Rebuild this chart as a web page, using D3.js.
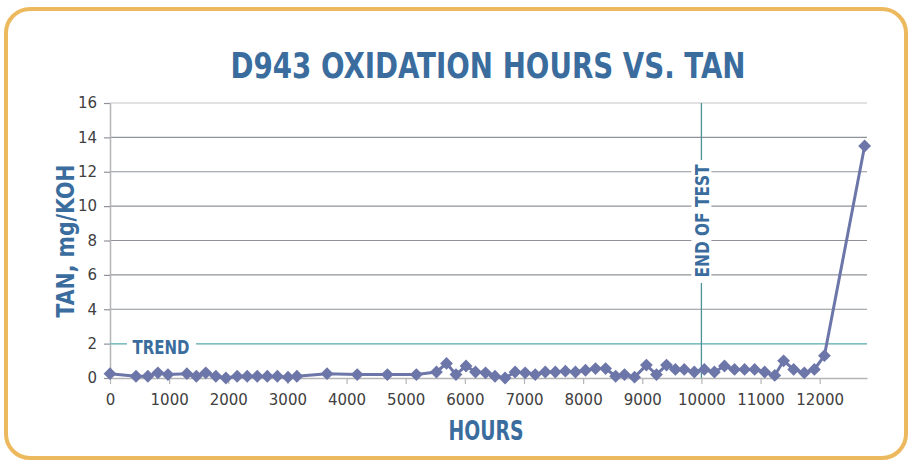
<!DOCTYPE html>
<html><head><meta charset="utf-8">
<script src="https://cdn.jsdelivr.net/npm/d3@7"></script>
<style>html,body{margin:0;padding:0;background:#fff;}svg{display:block;}</style>
</head><body>
<svg id="chart" width="909" height="462"></svg>
<script>
const titleText = "D943 OXIDATION HOURS VS. TAN";
const xLabel = "HOURS";
const yLabel = "TAN, mg/KOH";
const hours = [0,440,640,810,980,1300,1460,1620,1790,1960,2150,2320,2490,2660,2830,3010,3160,3670,4180,4690,5180,5520,5690,5850,6020,6180,6350,6510,6680,6850,7020,7190,7360,7530,7700,7870,8040,8210,8380,8550,8700,8870,9070,9240,9410,9560,9710,9880,10050,10220,10390,10560,10730,10900,11070,11240,11390,11560,11740,11910,12080,12760];
const tan = [0.25,0.1,0.1,0.3,0.2,0.25,0.1,0.3,0.1,0.0,0.1,0.1,0.1,0.1,0.1,0.05,0.1,0.25,0.2,0.2,0.2,0.35,0.85,0.2,0.7,0.35,0.3,0.1,0.0,0.35,0.3,0.2,0.35,0.35,0.4,0.35,0.45,0.55,0.55,0.1,0.2,0.05,0.75,0.2,0.75,0.5,0.5,0.35,0.5,0.35,0.7,0.5,0.5,0.5,0.35,0.15,1.0,0.5,0.3,0.5,1.3,13.5];
const xTicks = [0,1000,2000,3000,4000,5000,6000,7000,8000,9000,10000,11000,12000];
const yTicks = [0,2,4,6,8,10,12,14,16];
const trendValue = 2;
const trendLabel = "TREND";
const endTestHour = 10000;
const endTestLabel = "END OF TEST";

const svg = d3.select("#chart");
const blue = "#3A6D9E";
const condensed = "'DejaVu Sans Condensed','Liberation Sans Narrow','Open Sans',sans-serif";

// frame
svg.append("rect").attr("x",6).attr("y",9).attr("width",900).attr("height",449)
  .attr("rx",24).attr("ry",24).attr("fill","#fff").attr("stroke","#EDB95E").attr("stroke-width",4);

const x = d3.scaleLinear().domain([0,12800]).range([110,867]);
const y = d3.scaleLinear().domain([0,16]).range([378,103]);

// gridlines
svg.append("g").selectAll("line").data(yTicks.filter(d=>d>0)).join("line")
  .attr("x1",110).attr("x2",867).attr("y1",d=>y(d)).attr("y2",d=>y(d))
  .attr("stroke",d=>d===16?"#c4c4c4":"#8f9399").attr("stroke-width",1.2);

// axes
const xAxis = svg.append("g").attr("transform","translate(0,378)")
  .call(d3.axisBottom(x).tickValues(xTicks).tickFormat(d3.format("d")).tickSize(6).tickSizeOuter(0).tickPadding(10));
const yAxis = svg.append("g").attr("transform","translate(110,0)")
  .call(d3.axisLeft(y).tickValues(yTicks).tickSize(6).tickSizeOuter(0).tickPadding(7));
[xAxis,yAxis].forEach(a=>{
  a.select(".domain").attr("stroke","#b5b5b5").attr("stroke-width",1.5);
  a.selectAll(".tick line").attr("stroke","#b5b5b5").attr("stroke-width",1.2);
  a.selectAll("text").attr("fill","#404040").style("font-family","'DejaVu Sans',Verdana,sans-serif").style("font-size","15px");
});
yAxis.selectAll(".tick line").attr("stroke","#8f9399");

// trend line
svg.append("line").attr("x1",110).attr("x2",867).attr("y1",y(trendValue)).attr("y2",y(trendValue))
  .attr("stroke","#7DC0C2").attr("stroke-width",1.5);
svg.append("rect").attr("x",127).attr("y",y(trendValue)-10).attr("width",69).attr("height",20).attr("fill","#fff");
svg.append("text").attr("x",161).attr("y",y(trendValue)+10).attr("text-anchor","middle")
  .attr("textLength",57).attr("lengthAdjust","spacingAndGlyphs")
  .style("font-family",condensed).style("font-weight","bold").style("font-size","19px").attr("fill",blue).text(trendLabel);

// end of test line
svg.append("line").attr("x1",x(endTestHour)).attr("x2",x(endTestHour)).attr("y1",103).attr("y2",378)
  .attr("stroke","#4C9298").attr("stroke-width",1.3);
svg.append("rect").attr("x",x(endTestHour)-10).attr("y",160).attr("width",20).attr("height",123).attr("fill","#fff");
svg.append("text").attr("transform",`translate(${x(endTestHour)+8},221) rotate(-90)`).attr("text-anchor","middle")
  .attr("textLength",113).attr("lengthAdjust","spacingAndGlyphs")
  .style("font-family",condensed).style("font-weight","bold").style("font-size","19px").attr("fill",blue).text(endTestLabel);

// series
const pts = hours.map((h,i)=>({h, v: tan[i]}));
const lineColor = "#6D76A8";
svg.append("path").datum(pts).attr("fill","none").attr("stroke",lineColor).attr("stroke-width",3)
  .attr("d",d3.line().x(d=>x(d.h)).y(d=>y(d.v)));
svg.append("g").selectAll("path").data(pts).join("path")
  .attr("transform",d=>`translate(${x(d.h)},${y(d.v)})`)
  .attr("d",d3.symbol().type(d3.symbolDiamond2).size(105)).attr("fill",lineColor);

// title & labels
svg.append("text").attr("x",488).attr("y",78).attr("text-anchor","middle")
  .attr("textLength",515).attr("lengthAdjust","spacingAndGlyphs")
  .style("font-family",condensed).style("font-weight","bold").style("font-size","36px").attr("fill",blue).text(titleText);
svg.append("text").attr("x",486).attr("y",440).attr("text-anchor","middle")
  .attr("textLength",75).attr("lengthAdjust","spacingAndGlyphs")
  .style("font-family",condensed).style("font-weight","bold").style("font-size","27px").attr("fill",blue).text(xLabel);
svg.append("text").attr("transform","translate(74,241) rotate(-90)").attr("text-anchor","middle")
  .attr("textLength",153).attr("lengthAdjust","spacingAndGlyphs")
  .style("font-family",condensed).style("font-weight","bold").style("font-size","24px").attr("fill",blue).text(yLabel);
</script>
</body></html>
